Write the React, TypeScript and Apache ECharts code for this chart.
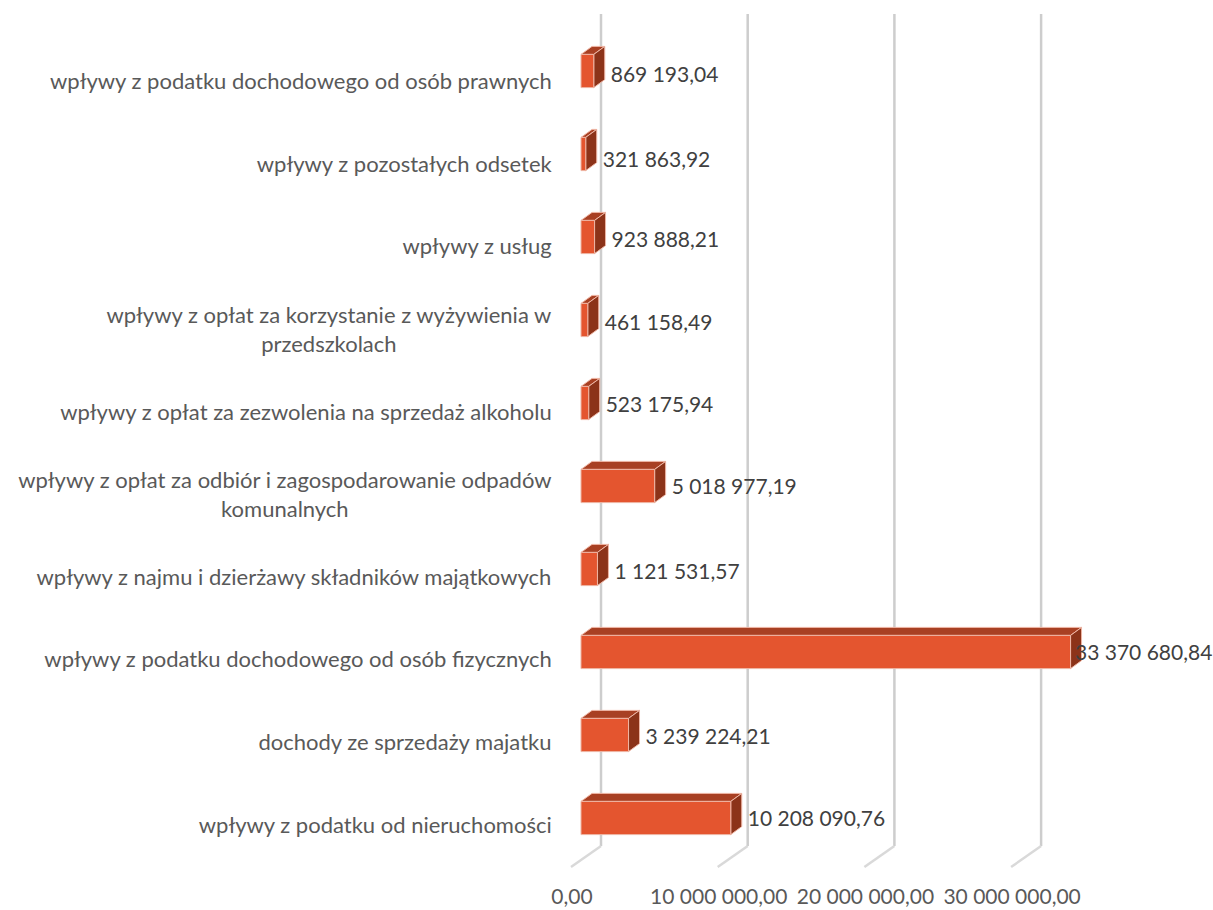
import React, { useEffect, useRef } from "react";
import * as echarts from "echarts";

const categories = [
  "wpływy z podatku od nieruchomości",
  "dochody ze sprzedaży majatku",
  "wpływy z podatku dochodowego od osób fizycznych",
  "wpływy z najmu i dzierżawy składników majątkowych",
  "wpływy z opłat za odbiór i zagospodarowanie odpadów\nkomunalnych",
  "wpływy z opłat za zezwolenia na sprzedaż alkoholu",
  "wpływy z opłat za korzystanie z wyżywienia w\nprzedszkolach",
  "wpływy z usług",
  "wpływy z pozostałych odsetek",
  "wpływy z podatku dochodowego od osób prawnych",
];
const values = [
  10208090.76, 3239224.21, 33370680.84, 1121531.57, 5018977.19, 523175.94,
  461158.49, 923888.21, 321863.92, 869193.04,
];
const ticks = [0, 10000000, 20000000, 30000000];
const tickLabels = ["0,00", "10 000 000,00", "20 000 000,00", "30 000 000,00"];

const FONT = "Lato";
const DEPTH_X = 11;
const DEPTH_Y = 8;
const labelNudge = [-1, 0, -1, 1, -1, 0, 1, 1, 4, 2];

const money = (v: number) => {
  const [a, b] = v.toFixed(2).split(".");
  return a.replace(/\B(?=(\d{3})+$)/g, " ") + "," + b;
};

export default function App() {
  const ref = useRef<HTMLDivElement>(null);
  useEffect(() => {
    const chart = echarts.init(ref.current!, undefined, { renderer: "svg" });
    chart.setOption({
      animation: false,
      backgroundColor: "#ffffff",
      grid: [
        { left: 581, top: 29.5, width: 586.8, height: 830 },
        { left: 572, top: 39.4, width: 586.8, height: 826 },
      ],
      xAxis: [
        { type: "value", gridIndex: 0, min: 0, max: 40000000, interval: 10000000, show: false },
        {
          type: "value",
          gridIndex: 1,
          min: 0,
          max: 40000000,
          interval: 10000000,
          axisLine: { show: false },
          axisTick: { show: false },
          splitLine: { show: false },
          axisLabel: {
            margin: 20,
            showMaxLabel: false,
            fontFamily: FONT,
            fontSize: 21,
            color: "#595959",
            formatter: (v: number) => tickLabels[ticks.indexOf(v)] ?? "",
          },
        },
      ],
      yAxis: [
        { type: "category", gridIndex: 0, data: categories, show: false },
        {
          type: "category",
          gridIndex: 1,
          data: categories,
          axisLine: { show: false },
          axisTick: { show: false },
          splitLine: { show: false },
          axisLabel: {
            margin: 20,
            interval: 0,
            fontFamily: FONT,
            fontSize: 22,
            color: "#595959",
            lineHeight: 29,
            formatter: (v: string) =>
              v.split("\n").map((l) => `{c|${l}}`).join("\n"),
            rich: {
              c: { fontFamily: FONT, fontSize: 22, color: "#595959", lineHeight: 29, align: "center" },
            },
          },
        },
      ],
      series: [
        {
          type: "custom",
          xAxisIndex: 0,
          yAxisIndex: 0,
          silent: true,
          z: 1,
          clip: false,
          data: ticks.map((t) => [t, 0]),
          encode: { x: 0, y: 1 },
          renderItem: (params: any, api: any) => {
            const x = api.coord([api.value(0), 0])[0] + 20;
            const cs = params.coordSys;
            const top = cs.y - 15.5;
            const bottom = cs.y + cs.height - 13.5;
            return {
              type: "group",
              children: [
                {
                  type: "line",
                  shape: { x1: x, y1: top, x2: x, y2: bottom },
                  style: { stroke: "#cdcdcd", lineWidth: 2.5 },
                },
                {
                  type: "line",
                  shape: { x1: x, y1: bottom, x2: x - 30, y2: bottom + 21 },
                  style: { stroke: "#d9d9d9", lineWidth: 2.5 },
                },
              ],
            };
          },
        },
        {
          type: "custom",
          xAxisIndex: 0,
          yAxisIndex: 0,
          silent: true,
          z: 2,
          clip: false,
          data: values.map((v, i) => [v, i]),
          encode: { x: 0, y: 1 },
          renderItem: (params: any, api: any) => {
            const v = api.value(0);
            const [xr, yc] = api.coord([v, api.value(1)]);
            const [xl] = api.coord([0, api.value(1)]);
            const h = api.size([0, 1])[1] * 0.4;
            const t = yc - h / 2;
            const b = yc + h / 2;
            const edge = { stroke: "#eeb5a4", lineWidth: 1 };
            const labelX = Math.min(xr + DEPTH_X + 6, api.getWidth() - 138);
            return {
              type: "group",
              children: [
                {
                  type: "polygon",
                  shape: { points: [[xl, t], [xl + DEPTH_X, t - DEPTH_Y], [xr + DEPTH_X, t - DEPTH_Y], [xr, t]] },
                  style: { fill: "#a84023", ...edge },
                },
                {
                  type: "polygon",
                  shape: { points: [[xr, t], [xr + DEPTH_X, t - DEPTH_Y], [xr + DEPTH_X, b - DEPTH_Y], [xr, b]] },
                  style: { fill: "#8c3319", ...edge },
                },
                {
                  type: "rect",
                  shape: { x: xl, y: t, width: xr - xl, height: h },
                  style: { fill: "#e4552f", ...edge },
                },
                {
                  type: "text",
                  z2: 10,
                  style: {
                    x: labelX,
                    y: yc + labelNudge[params.dataIndex],
                    text: money(v),
                    fontFamily: FONT,
                    fontSize: 21,
                    fill: "#404040",
                    align: "left",
                    verticalAlign: "middle",
                  },
                },
              ],
            };
          },
        },
      ],
    });
    return () => chart.dispose();
  }, []);
  return (
    <div
      ref={ref}
      style={{ position: "absolute", left: 0, top: 0, width: 1213, height: 910 }}
    />
  );
}
